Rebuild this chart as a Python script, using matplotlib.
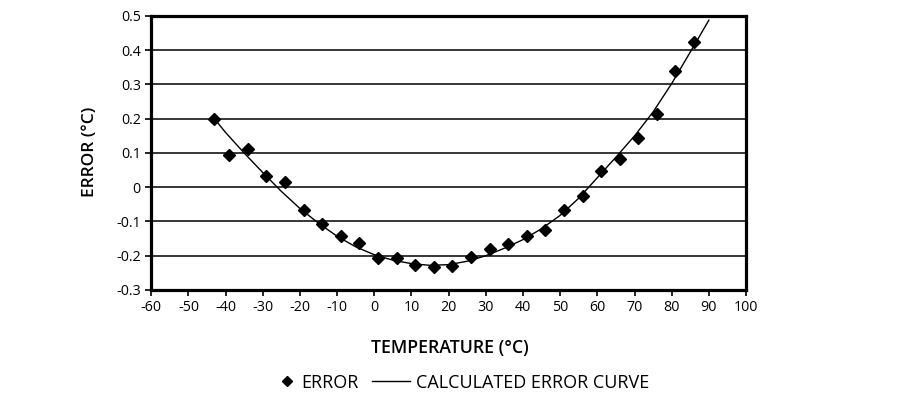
import matplotlib.pyplot as plt
from matplotlib.lines import Line2D

plt.rcParams['font.family'] = ['Open Sans', 'DejaVu Sans']

# measured error points
temp = [-43, -39, -34, -29, -24, -19, -14, -9, -4, 1, 6, 11, 16, 21,
        26, 31, 36, 41, 46, 51, 56, 61, 66, 71, 76, 81, 86]
error = [0.200, 0.094, 0.112, 0.034, 0.014, -0.066, -0.108, -0.142, -0.162, -0.206,
         -0.206, -0.227, -0.232, -0.230, -0.203, -0.181, -0.166, -0.142, -0.125,
         -0.066, -0.027, 0.048, 0.082, 0.145, 0.215, 0.340, 0.423]

# calculated curve
curve_t = [-43, -40, -35, -30, -25, -20, -15, -10, -5, 0, 5, 10, 15, 20, 25,
           30, 35, 40, 45, 50, 55, 60, 65, 70, 75, 80, 85, 90]
curve_e = [0.200, 0.160, 0.100, 0.043, -0.012, -0.062, -0.105, -0.143, -0.174, -0.197,
           -0.213, -0.223, -0.228, -0.226, -0.216, -0.200, -0.178, -0.153, -0.121,
           -0.082, -0.032, 0.028, 0.088, 0.150, 0.220, 0.303, 0.395, 0.488]

xticks = list(range(-60, 101, 10))
yticks = [-0.3, -0.2, -0.1, 0, 0.1, 0.2, 0.3, 0.4, 0.5]

fig = plt.figure(figsize=(9, 4), dpi=100)
ax = fig.add_axes([0.168, 0.275, 0.661, 0.685])

for yv in yticks[1:-1]:
    ax.axhline(yv, color='black', lw=1.1, zorder=1)

ax.plot(curve_t, curve_e, color='black', lw=1.0, zorder=2)
ax.plot(temp, error, linestyle='none', marker='D', markersize=6.5, color='black', zorder=3)

ax.set_xlim(-60, 100)
ax.set_ylim(-0.3, 0.5)
ax.set_xticks(xticks)
ax.set_xticklabels([str(t) for t in xticks])
ax.set_yticks(yticks)
ax.set_yticklabels(['-0.3', '-0.2', '-0.1', '0', '0.1', '0.2', '0.3', '0.4', '0.5'])
ax.tick_params(direction='out', length=4, width=1.2, labelsize=10.3, colors='black')

for s in ax.spines.values():
    s.set_linewidth(2.3)
    s.set_color('black')

fig.text(0.5, 0.13, 'TEMPERATURE (°C)', ha='center', va='center',
         fontsize=12.8, fontweight='semibold')
fig.text(0.1, 0.62, 'ERROR (°C)', ha='center', va='center', rotation=90,
         fontsize=12.5, fontweight='semibold')

# legend, two parts so each handle gets its own length
h_err = Line2D([], [], linestyle='none', marker='D', markersize=5.5, color='black')
h_cur = Line2D([], [], color='black', lw=1.0)
leg1 = fig.legend([h_err], ['ERROR'], loc='center left', bbox_to_anchor=(280 / 900, 0.043),
                  frameon=False, fontsize=13, borderpad=0, borderaxespad=0,
                  handlelength=0.8, handletextpad=0.4)
fig.legend([h_cur], ['CALCULATED ERROR CURVE'], loc='center left',
           bbox_to_anchor=(372 / 900, 0.043), frameon=False, fontsize=13, borderpad=0,
           borderaxespad=0, handlelength=2.1, handletextpad=0.35)

fig.savefig('out.png', dpi=100)
